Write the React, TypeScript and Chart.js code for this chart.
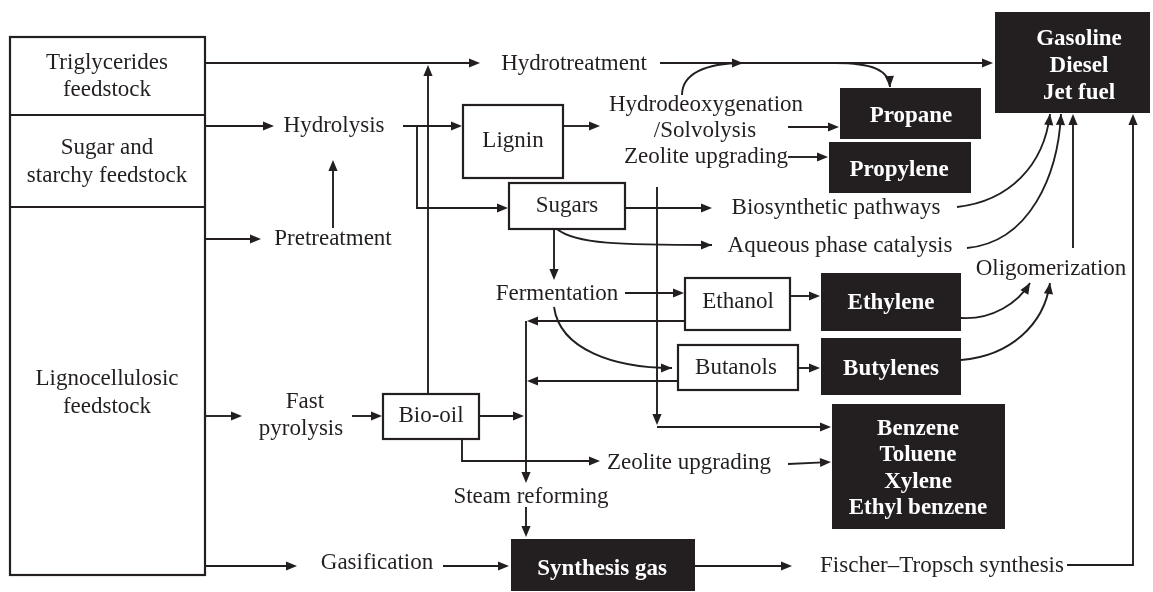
import React, { useEffect, useRef } from "react";
import Chart from "chart.js/auto";

const SPAN_X = 1153;
const SPAN_Y = 592;

// Plain (regular) labels: text, x, y (centre)
const plainLabels: [string, number, number][] = [
  ["Triglycerides", 107, 63],
  ["feedstock", 107, 90],
  ["Sugar and", 107, 148],
  ["starchy feedstock", 107, 176],
  ["Lignocellulosic", 107, 379],
  ["feedstock", 107, 407],
  ["Hydrotreatment", 574, 64],
  ["Hydrolysis", 334, 126],
  ["Pretreatment", 333, 239],
  ["Lignin", 513, 141],
  ["Hydrodeoxygenation", 706, 105],
  ["/Solvolysis", 705, 131],
  ["Zeolite upgrading", 706, 157],
  ["Sugars", 567, 206],
  ["Biosynthetic pathways", 836, 208],
  ["Aqueous phase catalysis", 840, 246],
  ["Fermentation", 557, 294],
  ["Ethanol", 738, 302],
  ["Butanols", 736, 368],
  ["Oligomerization", 1051, 269],
  ["Fast", 305, 402],
  ["pyrolysis", 301, 429],
  ["Bio-oil", 431, 416],
  ["Zeolite upgrading", 689, 463],
  ["Steam reforming", 531, 497],
  ["Gasification", 377, 563],
  ["Fischer\u2013Tropsch synthesis", 942, 566],
];

// Outlined (white) boxes: x0, y0, x1, y1
const outlinedBoxes: [number, number, number, number][] = [
  [10, 37, 205, 575],
  [463, 105, 563, 178],
  [509, 183, 625, 229],
  [685, 278, 790, 330],
  [678, 345, 798, 390],
  [383, 394, 479, 439],
];

// Dividers inside the feedstock column: y values
const feedstockDividers: number[] = [115, 207];

// Product (black) boxes: x0, y0, x1, y1
const productBoxes: [number, number, number, number][] = [
  [995, 12, 1150, 113],
  [840, 88, 981, 139],
  [829, 142, 971, 193],
  [821, 273, 961, 331],
  [821, 338, 961, 395],
  [832, 404, 1005, 529],
  [511, 539, 695, 591],
];

// Product labels (bold, white): text, x, y
const productLabels: [string, number, number][] = [
  ["Gasoline", 1079, 39],
  ["Diesel", 1079, 66],
  ["Jet fuel", 1079, 93],
  ["Propane", 911, 116],
  ["Propylene", 899, 170],
  ["Ethylene", 891, 303],
  ["Butylenes", 891, 369],
  ["Benzene", 918, 429],
  ["Toluene", 918, 455],
  ["Xylene", 918, 482],
  ["Ethyl benzene", 918, 508],
  ["Synthesis gas", 602, 569],
];

// Straight arrows (polyline, arrowhead at last point)
const straightArrows: [number, number][][] = [
  [[205, 63], [480, 63]],
  [[660, 63], [993, 63]],
  [[428, 393], [428, 65]],
  [[205, 126], [274, 126]],
  [[403, 126], [462, 126]],
  [[417, 126], [417, 208], [508, 208]],
  [[205, 239], [261, 239]],
  [[333, 228], [333, 160]],
  [[563, 126], [600, 126]],
  [[788, 127], [839, 127]],
  [[788, 157], [828, 157]],
  [[625, 208], [712, 208]],
  [[554, 229], [554, 280]],
  [[625, 293], [684, 293]],
  [[657, 187], [657, 425]],
  [[657, 427], [831, 427]],
  [[685, 321], [527, 321]],
  [[678, 381], [527, 381]],
  [[526, 321], [526, 483]],
  [[479, 416], [524, 416]],
  [[462, 439], [462, 461], [600, 461]],
  [[788, 464], [831, 462]],
  [[790, 296], [820, 296]],
  [[798, 368], [820, 368]],
  [[526, 507], [526, 537]],
  [[205, 566], [297, 566]],
  [[443, 566], [509, 566]],
  [[695, 566], [792, 566]],
  [[1067, 565], [1133, 565], [1133, 114]],
  [[1073, 248], [1073, 114]],
  [[205, 416], [242, 416]],
  [[352, 416], [382, 416]],
];

// Curved arrows: start, control1, control2, end
const curvedArrows: [number, number][][] = [
  [[682, 95], [682, 74], [705, 63], [743, 63]],
  [[835, 63], [872, 63], [889, 70], [890, 87]],
  [[557, 229], [575, 244], [620, 245], [712, 245]],
  [[554, 307], [560, 350], [615, 368], [672, 368]],
  [[957, 207], [1010, 201], [1044, 165], [1050, 114]],
  [[967, 248], [1030, 242], [1058, 175], [1061, 114]],
  [[961, 318], [992, 320], [1018, 303], [1030, 283]],
  [[961, 360], [1010, 356], [1044, 325], [1050, 283]],
];

const INK = "#231f20";

const flowPlugin = {
  id: "flowDiagram",
  afterDatasetsDraw(chart: any) {
    const ctx: CanvasRenderingContext2D = chart.ctx;
    const sx = chart.scales.x;
    const sy = chart.scales.y;
    const px = (v: number) => sx.getPixelForValue(v);
    const py = (v: number) => sy.getPixelForValue(v);

    ctx.save();
    ctx.fillStyle = "#ffffff";
    ctx.fillRect(0, 0, chart.width, chart.height);

    const head = (x: number, y: number, fromX: number, fromY: number) => {
      const ang = Math.atan2(y - fromY, x - fromX);
      const len = 11;
      const hw = 4.6;
      ctx.beginPath();
      ctx.moveTo(x, y);
      ctx.lineTo(
        x - len * Math.cos(ang) + hw * Math.sin(ang),
        y - len * Math.sin(ang) - hw * Math.cos(ang)
      );
      ctx.lineTo(
        x - len * Math.cos(ang) - hw * Math.sin(ang),
        y - len * Math.sin(ang) + hw * Math.cos(ang)
      );
      ctx.closePath();
      ctx.fillStyle = INK;
      ctx.fill();
    };

    // outlined boxes
    ctx.strokeStyle = INK;
    ctx.lineWidth = 2.2;
    outlinedBoxes.forEach(([x0, y0, x1, y1]) => {
      ctx.fillStyle = "#ffffff";
      ctx.fillRect(px(x0), py(y0), px(x1) - px(x0), py(y1) - py(y0));
      ctx.strokeRect(px(x0), py(y0), px(x1) - px(x0), py(y1) - py(y0));
    });
    const fb = outlinedBoxes[0];
    feedstockDividers.forEach((y) => {
      ctx.beginPath();
      ctx.moveTo(px(fb[0]), py(y));
      ctx.lineTo(px(fb[2]), py(y));
      ctx.stroke();
    });

    // product boxes
    ctx.fillStyle = INK;
    productBoxes.forEach(([x0, y0, x1, y1]) => {
      ctx.fillRect(px(x0), py(y0), px(x1) - px(x0), py(y1) - py(y0));
    });

    // straight arrows
    ctx.lineWidth = 1.9;
    ctx.strokeStyle = INK;
    straightArrows.forEach((pts) => {
      const n = pts.length;
      const [ex, ey] = pts[n - 1];
      const [bx, by] = pts[n - 2];
      const ang = Math.atan2(py(ey) - py(by), px(ex) - px(bx));
      ctx.beginPath();
      pts.forEach(([x, y], i) => {
        let X = px(x);
        let Y = py(y);
        if (i === n - 1) {
          X -= 8 * Math.cos(ang);
          Y -= 8 * Math.sin(ang);
        }
        if (i === 0) ctx.moveTo(X, Y);
        else ctx.lineTo(X, Y);
      });
      ctx.stroke();
      head(px(ex), py(ey), px(bx), py(by));
    });

    // curved arrows
    curvedArrows.forEach(([p0, c1, c2, p3]) => {
      ctx.beginPath();
      ctx.moveTo(px(p0[0]), py(p0[1]));
      ctx.bezierCurveTo(
        px(c1[0]), py(c1[1]),
        px(c2[0]), py(c2[1]),
        px(p3[0]), py(p3[1])
      );
      ctx.stroke();
      head(px(p3[0]), py(p3[1]), px(c2[0]), py(c2[1]));
    });

    // labels
    ctx.textAlign = "center";
    ctx.textBaseline = "middle";
    ctx.font = "23px 'Liberation Serif', 'Times New Roman', serif";
    ctx.fillStyle = INK;
    plainLabels.forEach(([t, x, y]) => {
      ctx.fillText(t, px(x), py(y));
    });
    ctx.font = "bold 23px 'Liberation Serif', 'Times New Roman', serif";
    ctx.fillStyle = "#ffffff";
    productLabels.forEach(([t, x, y]) => {
      ctx.fillText(t, px(x), py(y));
    });
    ctx.restore();
  },
};

export default function App() {
  const canvasRef = useRef<HTMLCanvasElement | null>(null);

  useEffect(() => {
    if (!canvasRef.current) return;
    const chart = new Chart(canvasRef.current, {
      type: "scatter",
      data: { datasets: [{ data: [], pointRadius: 0 }] },
      options: {
        animation: false,
        responsive: true,
        maintainAspectRatio: false,
        layout: { padding: 0 },
        events: [],
        plugins: {
          legend: { display: false },
          tooltip: { enabled: false },
        },
        scales: {
          x: { type: "linear", min: 0, max: SPAN_X, display: false },
          y: { type: "linear", min: 0, max: SPAN_Y, reverse: true, display: false },
        },
      },
      plugins: [flowPlugin],
    });
    return () => chart.destroy();
  }, []);

  return (
    <div
      style={{
        position: "fixed",
        left: 0,
        top: 0,
        width: SPAN_X + "px",
        height: SPAN_Y + "px",
        background: "#ffffff",
      }}
    >
      <canvas ref={canvasRef} />
    </div>
  );
}
